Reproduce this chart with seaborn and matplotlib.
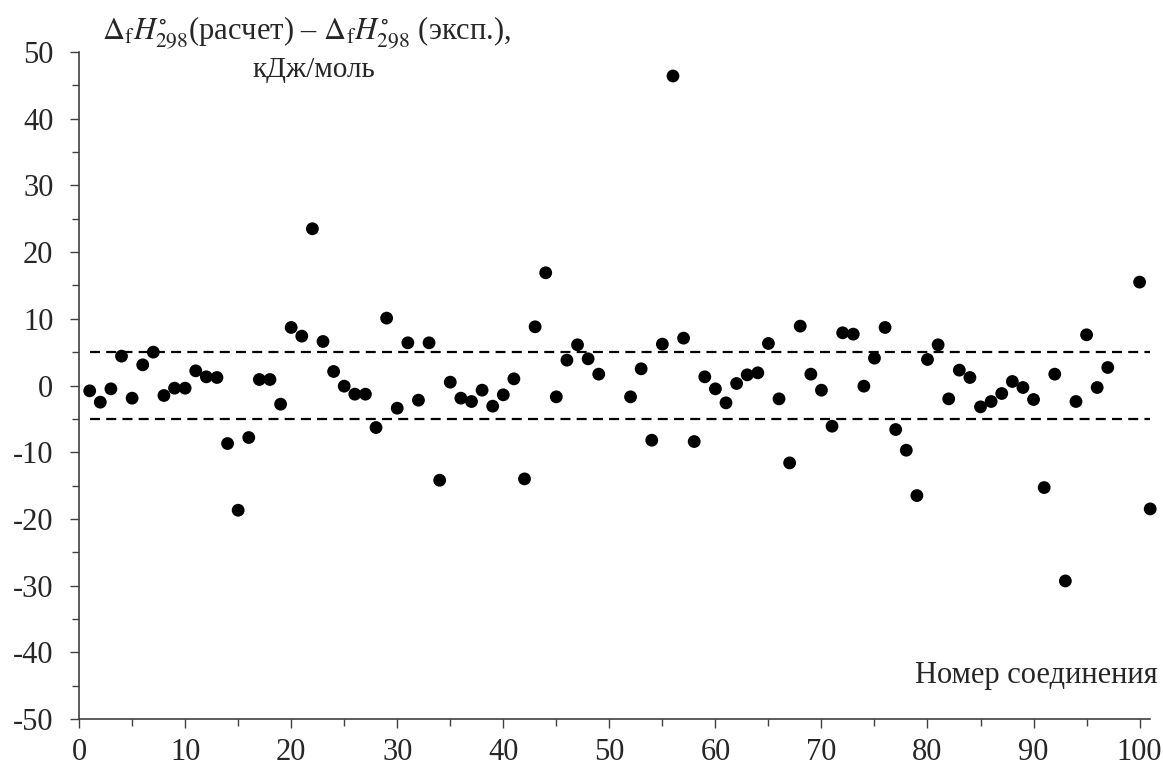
import matplotlib
matplotlib.use('Agg')
from matplotlib import pyplot as plt
from matplotlib.ticker import MultipleLocator
import pandas as pd
import seaborn as sns

# compound number and deviation (calc - exp), kJ/mol
compound = list(range(1, 50)) + list(range(52, 98)) + [100, 101]
delta = [
    -0.8, -2.5, -0.5, 4.4, -1.9, 3.1, 5.0, -1.5, -0.4, -0.4,
    2.2, 1.3, 1.2, -8.7, -18.7, -7.8, 0.9, 0.9, -2.8, 8.7,
    7.4, 23.5, 6.6, 2.1, -0.1, -1.3, -1.3, -6.3, 10.1, -3.4,
    6.4, -2.2, 6.4, -14.2, 0.5, -1.9, -2.4, -0.7, -3.1, -1.4,
    1.0, -14.0, 8.8, 16.9, -1.7, 3.8, 6.1, 4.0, 1.7,
    -1.7, 2.5, -8.2, 6.2, 46.4, 7.1, -8.4, 1.3, -0.5, -2.6,
    0.3, 1.6, 1.9, 6.3, -2.0, -11.6, 8.9, 1.7, -0.7, -6.1,
    7.9, 7.7, -0.1, 4.1, 8.7, -6.6, -9.7, -16.5, 3.9, 6.1,
    -2.0, 2.3, 1.2, -3.2, -2.4, -1.2, 0.6, -0.3, -2.1, -15.3,
    1.7, -29.3, -2.4, 7.6, -0.3, 2.7,
    15.5, -18.5,
]
band = [-5, 5]
band_x = [1, 101]

df = pd.DataFrame({'n': compound, 'd': delta})

sns.set_style('ticks')
plt.rcParams['font.family'] = ['Liberation Serif', 'DejaVu Serif']
plt.rcParams['mathtext.fontset'] = 'stix'
plt.rcParams['axes.unicode_minus'] = False

fig = plt.figure(figsize=(11.63, 7.71), dpi=100)
ax = fig.add_axes([0.068, 0.0674, 0.921, 0.8652])

for b in band:
    ax.plot(band_x, [b, b], color='black', lw=1.6, ls=(0, (4.5, 2.8)), zorder=1)

sns.scatterplot(data=df, x='n', y='d', ax=ax, color='black', s=85,
                edgecolor='none', clip_on=False, zorder=3, legend=False)

ax.set_xlim(0, 101)
ax.set_ylim(-50, 50)
ax.xaxis.set_major_locator(MultipleLocator(10))
ax.xaxis.set_minor_locator(MultipleLocator(5))
ax.yaxis.set_major_locator(MultipleLocator(10))
ax.yaxis.set_minor_locator(MultipleLocator(5))
ax.tick_params(which='major', length=6.5, width=1, color='#404040',
               labelsize=22)
ax.tick_params(which='minor', length=5, width=1, color='#404040')
ax.tick_params(axis='x', pad=7)
ax.tick_params(axis='y', pad=12)
ax.set_xlabel('')
ax.set_ylabel('')
for side in ['top', 'right']:
    ax.spines[side].set_visible(False)
for side in ['left', 'bottom']:
    ax.spines[side].set_color('#404040')
    ax.spines[side].set_linewidth(1.2)

fig.text(0.088, 0.957,
         r'$\Delta_{\mathrm{f}}H^{\circ}_{298}$(расчет) – '
         r'$\Delta_{\mathrm{f}}H^{\circ}_{298}$ (эксп.),',
         fontsize=22, ha='left', va='center')
fig.text(0.270, 0.909, 'кДж/моль', fontsize=21, ha='center', va='center')
ax.text(101.7, -43.5, 'Номер соединения', fontsize=22, ha='right',
        va='center')

fig.savefig('out.png', dpi=100)
